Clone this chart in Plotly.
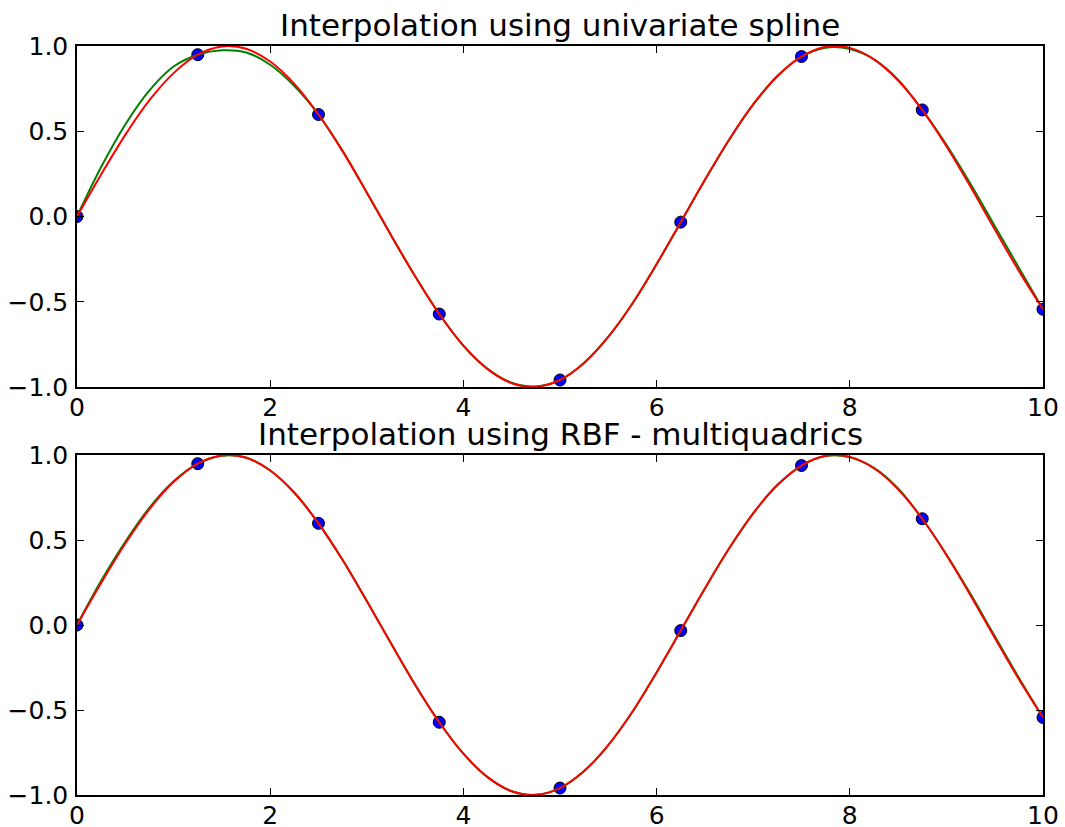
import plotly.graph_objects as go

# Sample points (blue dots)
x_pts = [0.0, 1.25, 2.5, 3.75, 5.0, 6.25, 7.5, 8.75, 10.0]
y_pts = [0.0, 0.949, 0.598, -0.572, -0.959, -0.033, 0.938, 0.625, -0.544]

# Curve abscissae
x_curve = [0.0, 0.25, 0.5, 0.75, 1.0, 1.25, 1.5, 1.75, 2.0, 2.25, 2.5, 2.75, 3.0, 3.25,
           3.5, 3.75, 4.0, 4.25, 4.5, 4.75, 5.0, 5.25, 5.5, 5.75, 6.0, 6.25, 6.5, 6.75,
           7.0, 7.25, 7.5, 7.75, 8.0, 8.25, 8.5, 8.75, 9.0, 9.25, 9.5, 9.75, 10.0]

# Red curve (true function)
y_red = [0.0, 0.247, 0.479, 0.682, 0.841, 0.949, 0.997, 0.984, 0.909, 0.778, 0.598,
         0.382, 0.141, -0.108, -0.351, -0.572, -0.757, -0.895, -0.978, -0.999, -0.959,
         -0.859, -0.706, -0.510, -0.279, -0.033, 0.215, 0.450, 0.657, 0.823, 0.938,
         0.996, 0.989, 0.922, 0.798, 0.625, 0.412, 0.174, -0.075, -0.319, -0.544]

# Green curve, univariate spline (top panel)
y_spline = [0.0, 0.29, 0.54, 0.74, 0.88, 0.949, 0.975, 0.962, 0.89, 0.765, 0.598,
            0.385, 0.14, -0.11, -0.35, -0.572, -0.758, -0.893, -0.975, -0.997, -0.959,
            -0.858, -0.705, -0.51, -0.28, -0.033, 0.214, 0.449, 0.657, 0.824, 0.938,
            0.99, 0.982, 0.922, 0.803, 0.625, 0.42, 0.19, -0.055, -0.30, -0.544]

# Green curve, RBF multiquadrics (bottom panel)
y_rbf = [0.0, 0.26, 0.49, 0.69, 0.845, 0.949, 0.996, 0.985, 0.909, 0.778, 0.598,
         0.382, 0.141, -0.108, -0.351, -0.572, -0.757, -0.895, -0.978, -0.999, -0.959,
         -0.859, -0.706, -0.510, -0.279, -0.033, 0.215, 0.450, 0.657, 0.823, 0.938,
         0.994, 0.987, 0.924, 0.803, 0.625, 0.415, 0.182, -0.065, -0.31, -0.544]

titles = ["Interpolation using univariate spline", "Interpolation using RBF - multiquadrics"]
x_ticks = [0, 2, 4, 6, 8, 10]
y_ticks = [-1.0, -0.5, 0.0, 0.5, 1.0]

fig = go.Figure()

for i, (green, xa, ya) in enumerate([(y_spline, "x", "y"), (y_rbf, "x2", "y2")]):
    fig.add_trace(go.Scatter(x=x_pts, y=y_pts, mode="markers", xaxis=xa, yaxis=ya,
                             marker=dict(color="#0000ff", size=12,
                                         line=dict(color="#000000", width=1)),
                             showlegend=False))
    fig.add_trace(go.Scatter(x=x_curve, y=green, mode="lines", xaxis=xa, yaxis=ya,
                             line=dict(color="#008000", width=2, shape="spline"),
                             showlegend=False))
    fig.add_trace(go.Scatter(x=x_curve, y=y_red, mode="lines", xaxis=xa, yaxis=ya,
                             line=dict(color="#ff0000", width=2, shape="spline"),
                             showlegend=False))

ax_common = dict(showline=True, linecolor="black", linewidth=1.5, mirror="ticks",
                 ticks="inside", ticklen=7, tickcolor="black", showgrid=False,
                 zeroline=False, automargin=False,
                 tickfont=dict(family="DejaVu Sans", size=25, color="black"))

top_dom = [1 - 341 / 749, 1.0]
bot_dom = [0.0, 340 / 749]

fig.update_layout(
    width=1065, height=827,
    paper_bgcolor="white", plot_bgcolor="white",
    margin=dict(l=77, r=22, t=46, b=32),
    xaxis=dict(range=[0, 10], tickvals=x_ticks, anchor="y", ticklabelstandoff=-3, **ax_common),
    yaxis=dict(range=[-1, 1], tickvals=y_ticks, tickformat=".1f", domain=top_dom,
               anchor="x", ticklabelstandoff=2, **ax_common),
    xaxis2=dict(range=[0, 10], tickvals=x_ticks, anchor="y2", ticklabelstandoff=-3, **ax_common),
    yaxis2=dict(range=[-1, 1], tickvals=y_ticks, tickformat=".1f", domain=bot_dom,
                anchor="x2", ticklabelstandoff=2, **ax_common),
    annotations=[
        dict(text=titles[0], xref="paper", yref="paper", x=0.5, y=top_dom[1],
             yshift=1, xanchor="center", yanchor="bottom", showarrow=False,
             font=dict(family="DejaVu Sans", size=31, color="black")),
        dict(text=titles[1], xref="paper", yref="paper", x=0.5, y=bot_dom[1],
             yshift=1, xanchor="center", yanchor="bottom", showarrow=False,
             font=dict(family="DejaVu Sans", size=31, color="black")),
    ],
)

fig.write_html("out.html", config={"displayModeBar": False},
               post_script="document.body.style.margin='0';")
